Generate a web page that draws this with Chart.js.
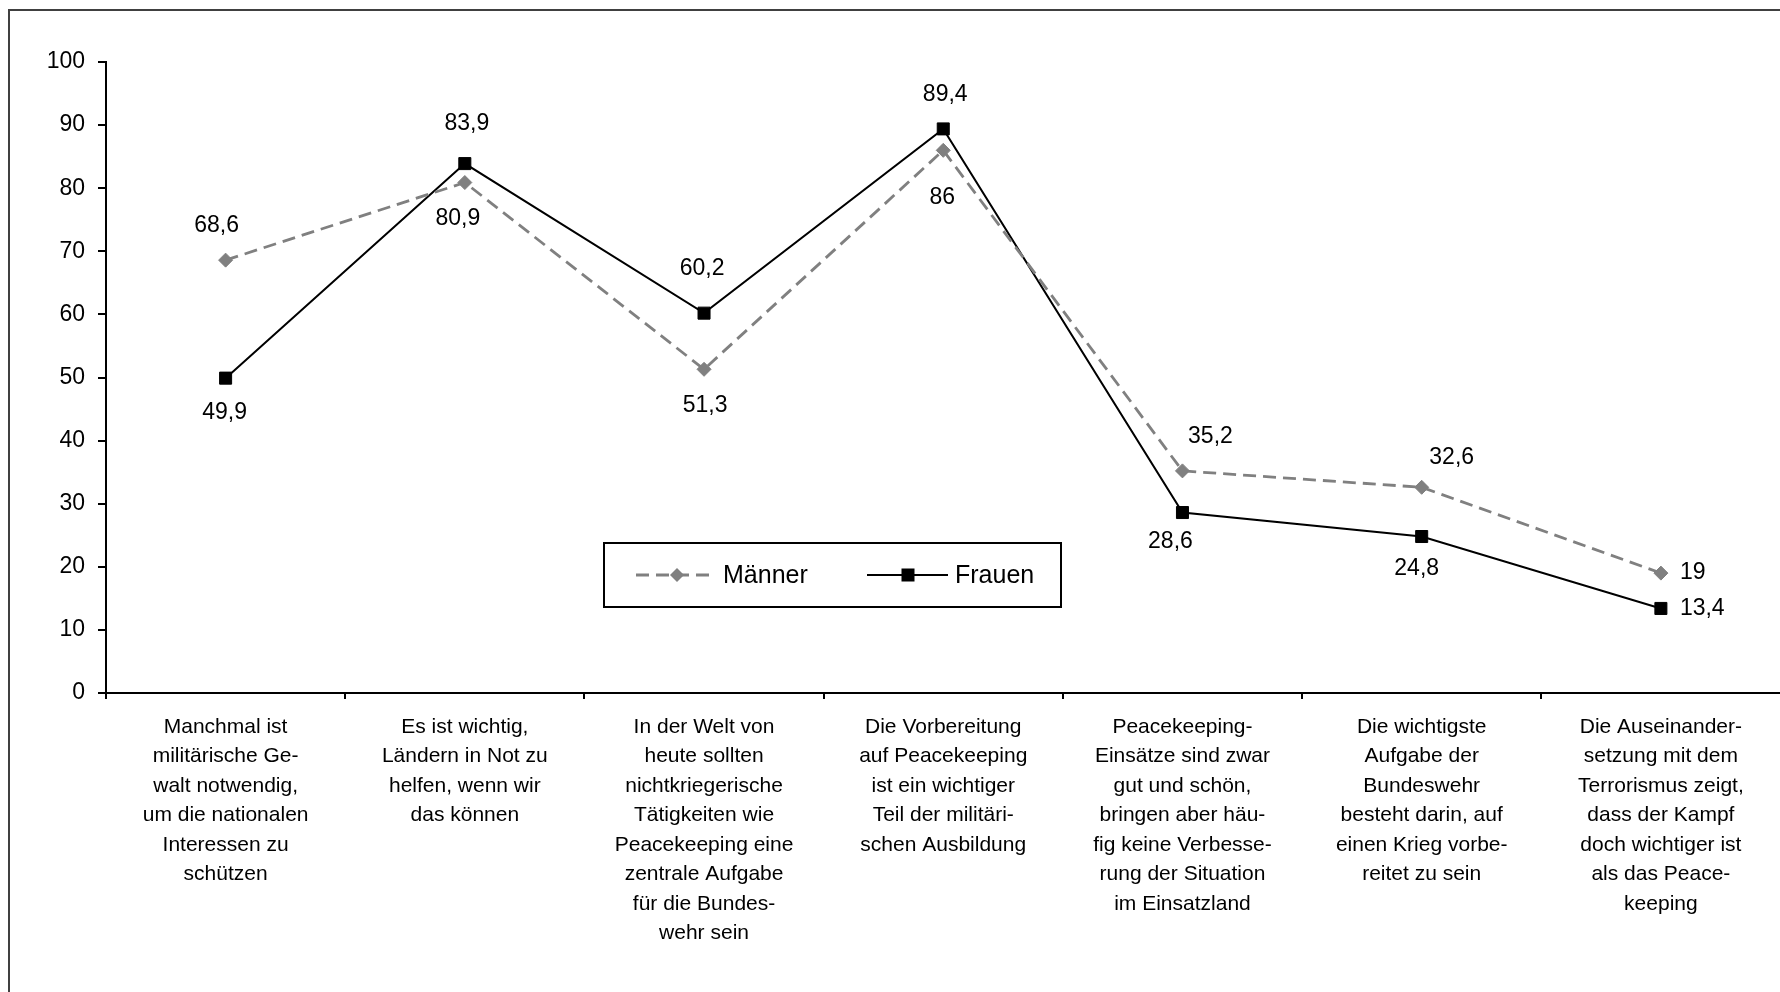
<!DOCTYPE html>
<html>
<head>
<meta charset="utf-8">
<script src="https://cdn.jsdelivr.net/npm/chart.js@4"></script>
<style>
  html, body { margin: 0; padding: 0; background: #fff; overflow: hidden; }
  #wrap { position: relative; width: 1790px; height: 992px; }
</style>
</head>
<body>
<div id="wrap"><canvas id="c" width="1790" height="992"></canvas></div>
<script>
// ---- data ----
const categories = [
  ["Manchmal ist", "militärische Ge-", "walt notwendig,", "um die nationalen", "Interessen zu", "schützen"],
  ["Es ist wichtig,", "Ländern in Not zu", "helfen, wenn wir", "das können"],
  ["In der Welt von", "heute sollten", "nichtkriegerische", "Tätigkeiten wie", "Peacekeeping eine", "zentrale Aufgabe", "für die Bundes-", "wehr sein"],
  ["Die Vorbereitung", "auf Peacekeeping", "ist ein wichtiger", "Teil der militäri-", "schen Ausbildung"],
  ["Peacekeeping-", "Einsätze sind zwar", "gut und schön,", "bringen aber häu-", "fig keine Verbesse-", "rung der Situation", "im Einsatzland"],
  ["Die wichtigste", "Aufgabe der", "Bundeswehr", "besteht darin, auf", "einen Krieg vorbe-", "reitet zu sein"],
  ["Die Auseinander-", "setzung mit dem", "Terrorismus zeigt,", "dass der Kampf", "doch wichtiger ist", "als das Peace-", "keeping"]
];
const maenner = [68.6, 80.9, 51.3, 86, 35.2, 32.6, 19];
const frauen  = [49.9, 83.9, 60.2, 89.4, 28.6, 24.8, 13.4];
const seriesNames = ["Männer", "Frauen"];
const yTicks = [0, 10, 20, 30, 40, 50, 60, 70, 80, 90, 100];

// ---- styling (label placement offsets, px) ----
const FONT = '"Liberation Sans", Arial, Helvetica, sans-serif';
const labelOffsets = [
  // Männer
  [[-9, -34, 'center'], [-7, 36, 'center'], [1, 36, 'center'], [-1, 47, 'center'], [28, -34, 'center'], [30, -30, 'center'], [19, 0, 'left']],
  // Frauen
  [[-1, 35, 'center'], [2, -40, 'center'], [-2, -44, 'center'], [2, -34, 'center'], [-12, 29, 'center'], [-5, 32, 'center'], [19, 0, 'left']]
];

const frame = {
  id: 'frame',
  beforeDraw(chart) {
    const ctx = chart.ctx;
    ctx.save();
    ctx.fillStyle = '#fff';
    ctx.fillRect(0, 0, chart.width, chart.height);
    ctx.strokeStyle = '#404040';
    ctx.lineWidth = 2;
    ctx.strokeRect(9, 10, chart.width + 100, chart.height + 100);
    ctx.restore();
  }
};

const valueLabels = {
  id: 'valueLabels',
  afterDatasetsDraw(chart) {
    const ctx = chart.ctx;
    ctx.save();
    ctx.font = '23px ' + FONT;
    ctx.fillStyle = '#000';
    ctx.textBaseline = 'middle';
    chart.data.datasets.forEach((ds, di) => {
      const meta = chart.getDatasetMeta(di);
      meta.data.forEach((pt, i) => {
        const off = labelOffsets[di][i];
        ctx.textAlign = off[2];
        ctx.fillText(String(ds.data[i]).replace('.', ','), pt.x + off[0], pt.y + off[1]);
      });
    });
    ctx.restore();
  }
};

const boxLegend = {
  id: 'boxLegend',
  afterDraw(chart) {
    const ctx = chart.ctx;
    ctx.save();
    const bx = 604, by = 543, bw = 457, bh = 64;
    ctx.strokeStyle = '#000';
    ctx.lineWidth = 2;
    ctx.strokeRect(bx, by, bw, bh);
    const cy = 575;
    // Männer sample
    const d0 = chart.data.datasets[0];
    ctx.strokeStyle = d0.borderColor;
    ctx.lineWidth = d0.borderWidth;
    ctx.setLineDash(d0.borderDash);
    ctx.beginPath(); ctx.moveTo(636, cy); ctx.lineTo(716, cy); ctx.stroke();
    ctx.setLineDash([]);
    ctx.fillStyle = d0.pointBackgroundColor;
    const r = d0.pointRadius, mx = 677;
    ctx.beginPath();
    ctx.moveTo(mx - r, cy); ctx.lineTo(mx, cy - r); ctx.lineTo(mx + r, cy); ctx.lineTo(mx, cy + r);
    ctx.closePath(); ctx.fill();
    // Frauen sample
    const d1 = chart.data.datasets[1];
    ctx.strokeStyle = d1.borderColor;
    ctx.lineWidth = d1.borderWidth;
    ctx.beginPath(); ctx.moveTo(867, cy); ctx.lineTo(948, cy); ctx.stroke();
    ctx.fillStyle = d1.pointBackgroundColor;
    ctx.fillRect(908 - 6.5, cy - 6.5, 13, 13);
    // text
    ctx.fillStyle = '#000';
    ctx.font = '25px ' + FONT;
    ctx.textAlign = 'left';
    ctx.textBaseline = 'middle';
    ctx.fillText(seriesNames[0], 723, cy + 1);
    ctx.fillText(seriesNames[1], 955, cy + 1);
    ctx.restore();
  }
};

new Chart(document.getElementById('c'), {
  type: 'line',
  data: {
    labels: categories,
    datasets: [
      {
        label: seriesNames[0],
        data: maenner,
        borderColor: '#808080',
        borderWidth: 2.8,
        borderDash: [13, 7],
        pointStyle: 'rectRot',
        pointRadius: 7,
        pointBackgroundColor: '#808080',
        pointBorderColor: '#808080',
        pointBorderWidth: 1,
        tension: 0,
        fill: false
      },
      {
        label: seriesNames[1],
        data: frauen,
        borderColor: '#000000',
        borderWidth: 2,
        pointStyle: 'rect',
        pointRadius: 8.5,
        pointBackgroundColor: '#000000',
        pointBorderColor: '#000000',
        pointBorderWidth: 1,
        tension: 0,
        fill: false
      }
    ]
  },
  options: {
    responsive: false,
    animation: false,
    devicePixelRatio: 1,
    layout: { padding: { top: 62, right: 7, left: 0, bottom: 0 } },
    plugins: {
      legend: { display: false },
      tooltip: { enabled: false },
      title: { display: false }
    },
    scales: {
      x: {
        type: 'category',
        offset: true,
        grid: { offset: true, drawOnChartArea: false, drawTicks: true, tickLength: 6, color: '#000', lineWidth: 2 },
        border: { display: true, color: '#000', width: 2 },
        ticks: {
          autoSkip: false, maxRotation: 0, minRotation: 0,
          padding: 13, color: '#000',
          font: { family: FONT, size: 21, lineHeight: 1.405 }
        },
        afterFit(scale) { scale.height = 299; }
      },
      y: {
        min: 0, max: 100,
        afterBuildTicks(scale) { scale.ticks = yTicks.map(v => ({ value: v })); },
        grid: { drawOnChartArea: false, drawTicks: true, tickLength: 8, color: '#000', lineWidth: 2 },
        border: { display: true, color: '#000', width: 2 },
        ticks: {
          padding: 13, color: '#000',
          font: { family: FONT, size: 23 },
          callback: v => String(v)
        },
        afterFit(scale) { scale.width = 106; }
      }
    }
  },
  plugins: [frame, valueLabels, boxLegend]
});
</script>
</body>
</html>
